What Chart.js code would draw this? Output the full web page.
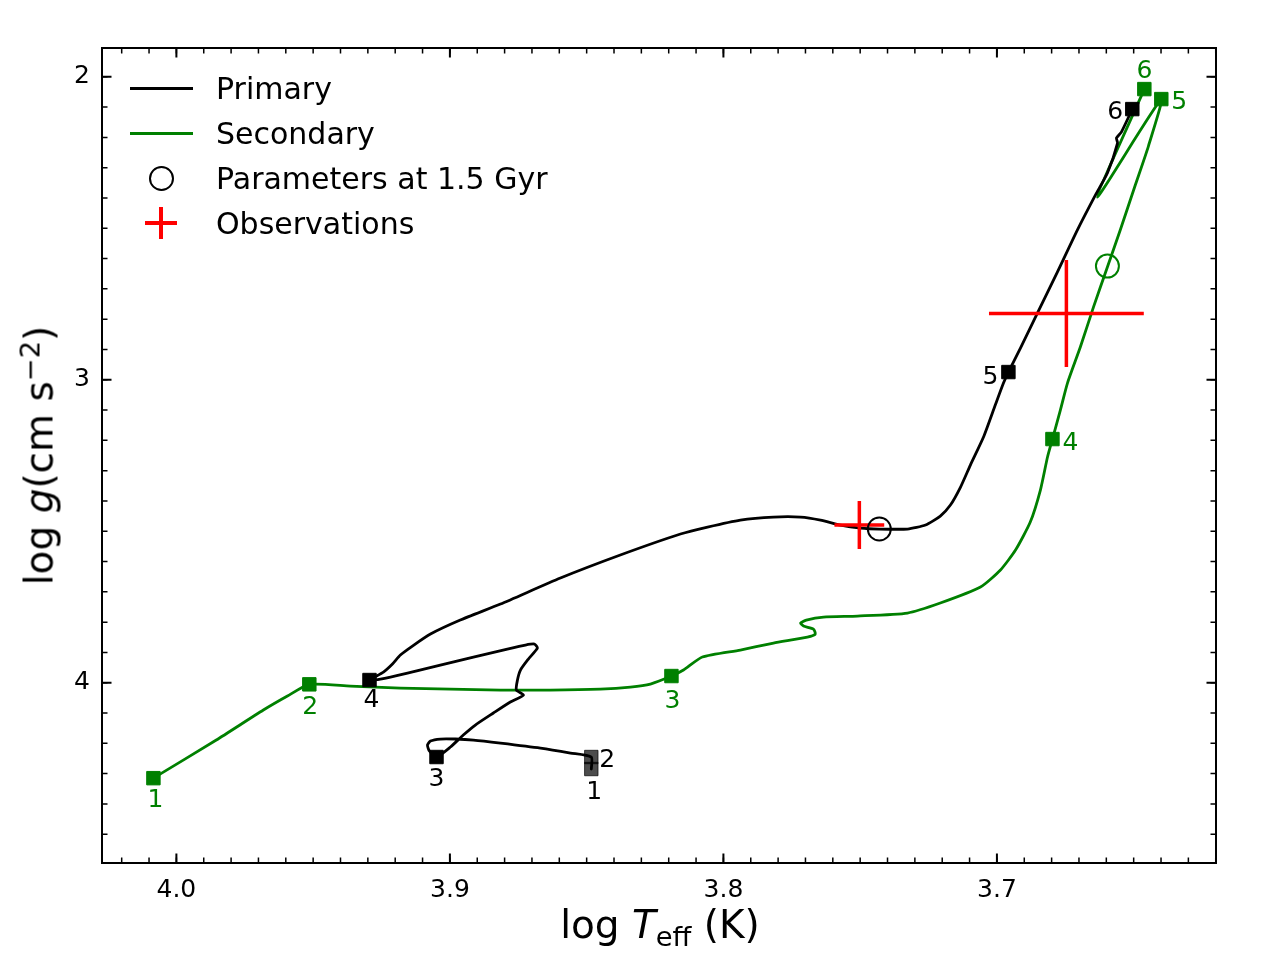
<!DOCTYPE html>
<html>
<head>
<meta charset="utf-8">
<title>log Teff - log g tracks</title>
<script src="https://cdn.jsdelivr.net/npm/chart.js@4.4.1/dist/chart.umd.min.js"></script>
<style>
  html, body { margin: 0; padding: 0; background: #fff; overflow: hidden; }
  #wrap { position: relative; width: 1280px; height: 960px; font-family: 'DejaVu Sans', sans-serif; color: #000; }
  #c { position: absolute; left: 0; top: 0; }
  .axis-title { position: absolute; width: 400px; height: 39px; font-size: 39px; line-height: 39px; text-align: center; white-space: nowrap; }
  #xtitle { left: 460px; top: 905px; }
  #ytitle { left: -161px; top: 436px; transform: rotate(-90deg); }
  .sub { font-size: 0.7em; position: relative; top: 8px; }
  .sup { font-size: 0.7em; position: relative; top: -13px; }
  .leg-text { position: absolute; left: 216px; font-size: 30px; line-height: 30px; white-space: nowrap; }
  .leg-line { position: absolute; left: 130px; width: 63px; height: 3px; }
  .leg-circle { position: absolute; left: 148.5px; top: 165.5px; width: 21px; height: 21px; border: 2px solid #000; border-radius: 50%; }
  .leg-bar { position: absolute; background: #ff0000; }
</style>
</head>
<body>
<div id="wrap">
  <canvas id="c" width="1280" height="960" style="width:1280px;height:960px"></canvas>

  <div class="leg-line" style="top:86.5px;background:#000"></div>
  <div class="leg-text" style="top:74px">Primary</div>
  <div class="leg-line" style="top:131.5px;background:#008000"></div>
  <div class="leg-text" style="top:119px">Secondary</div>
  <div class="leg-circle"></div>
  <div class="leg-text" style="top:164px">Parameters at 1.5 Gyr</div>
  <div class="leg-bar" style="left:145px;top:221px;width:32px;height:4px"></div>
  <div class="leg-bar" style="left:159px;top:207px;width:4px;height:32px"></div>
  <div class="leg-text" style="top:209px">Observations</div>

  <div id="xtitle" class="axis-title">log <i>T</i><span class="sub">eff</span> (K)</div>
  <div id="ytitle" class="axis-title">log <i>g</i>(cm s<span class="sup">−2</span>)</div>
</div>

<script>
  // Primary track (log Teff, log g)
  const primTeff = [3.8483, 3.8483, 3.8559, 3.8669, 3.8815, 3.8914, 3.8980, 3.9035, 3.9071, 3.9082,
    3.9075, 3.9049, 3.8998, 3.8951, 3.8907, 3.8841, 3.8779, 3.8731, 3.8757, 3.8753,
    3.8742, 3.8713, 3.8680, 3.8691, 3.8724, 3.8790, 3.8914, 3.9035, 3.9155, 3.9254,
    3.9294, 3.9243, 3.9210, 3.9181, 3.9137, 3.9071, 3.8962, 3.8815, 3.8596, 3.8377,
    3.8157, 3.8058, 3.7938, 3.7817, 3.7718, 3.7645, 3.7572, 3.7499, 3.7430, 3.7327,
    3.7261, 3.7207, 3.7170, 3.7133, 3.7097, 3.7049, 3.7006, 3.6976, 3.6958, 3.6914,
    3.6852, 3.6779, 3.6706, 3.6640, 3.6596, 3.6559, 3.6563, 3.6545, 3.6505];
  const primLogg = [4.2848, 4.2452, 4.2320, 4.2155, 4.1990, 4.1891, 4.1858, 4.1858, 4.1924, 4.2056,
    4.2254, 4.2452, 4.2122, 4.1726, 4.1396, 4.1000, 4.0637, 4.0406, 4.0241, 3.9911,
    3.9581, 3.9218, 3.8855, 3.8723, 3.8756, 3.8888, 3.9152, 3.9416, 3.9680, 3.9878,
    3.9911, 3.9647, 3.9383, 3.9086, 3.8789, 3.8393, 3.7931, 3.7403, 3.6545, 3.5785,
    3.5092, 3.4861, 3.4630, 3.4531, 3.4531, 3.4630, 3.4795, 3.4894, 3.4927, 3.4927,
    3.4795, 3.4498, 3.4135, 3.3541, 3.2815, 3.1891, 3.0835, 3.0109, 2.9746, 2.8954,
    2.7799, 2.6446, 2.5059, 2.3904, 2.3178, 2.2188, 2.2023, 2.1825, 2.1066];

  // Secondary track
  const secTeff = [4.0084, 3.9854, 3.9682, 3.9594, 3.9514, 3.9364, 3.9181, 3.8998, 3.8815, 3.8633,
    3.8450, 3.8340, 3.8267, 3.8190, 3.8146, 3.8077, 3.7938, 3.7817, 3.7693, 3.7664,
    3.7671, 3.7707, 3.7718, 3.7697, 3.7634, 3.7510, 3.7327, 3.7207, 3.7060, 3.6987,
    3.6932, 3.6878, 3.6841, 3.6815, 3.6797, 3.6768, 3.6742, 3.6695, 3.6647, 3.6596,
    3.6549, 3.6494, 3.6446, 3.6399, 3.6633, 3.6461];
  const secLogg = [4.3150, 4.1891, 4.0901, 4.0439, 4.0053, 4.0109, 4.0175, 4.0208, 4.0241, 4.0241,
    4.0208, 4.0142, 4.0043, 3.9779, 3.9581, 3.9152, 3.8921, 3.8690, 3.8492, 3.8393,
    3.8228, 3.8129, 3.8030, 3.7931, 3.7832, 3.7799, 3.7700, 3.7370, 3.6842, 3.6280,
    3.5621, 3.4696, 3.3640, 3.2551, 3.1957, 3.1000, 3.0109, 2.8921, 2.7601, 2.6281,
    2.5059, 2.3574, 2.2287, 2.0736, 2.3970, 2.0406];

  // numbered points along the tracks
  const markNames = ['1', '2', '3', '4', '5', '6'];
  const primMarkTeff = [3.8483, 3.8483, 3.9049, 3.9294, 3.6958, 3.6505];
  const primMarkLogg = [4.2848, 4.2452, 4.2452, 3.9911, 2.9746, 2.1066];
  const secMarkTeff = [4.0084, 3.9514, 3.8190, 3.6797, 3.6399, 3.6461];
  const secMarkLogg = [4.3150, 4.0053, 3.9779, 3.1957, 2.0736, 2.0406];

  // parameters at 1.5 Gyr (primary, secondary)
  const ageTeff = [3.7430, 3.6596];
  const ageLogg = [3.4927, 2.6248];

  // observations with error bars
  const obsTeff = [3.7503, 3.6746];
  const obsLogg = [3.4795, 2.7815];
  const obsTeffErr = [0.0091, 0.0283];
  const obsLoggErr = [0.0792, 0.1766];

  // axes
  const xTickValues = [4.0, 3.9, 3.8, 3.7];
  const yTickValues = [2, 3, 4];
  const X_MIN = 3.6199, X_MAX = 4.0272;
  const Y_MIN = 1.905, Y_MAX = 4.595;
  const X_MINOR_STEP = 0.01, Y_MINOR_STEP = 0.1;

  // label offsets in px from each numbered marker
  const primLabelOffsets = [[3, 21], [16, 1], [0, 20], [2, 18], [-18, 3], [-17, 1]];
  const secLabelOffsets = [[2, 20], [1, 21], [1, 23], [18, 2], [18, 1], [0, -20]];

  const BLACK = '#000000';
  const GREEN = '#008000';
  const RED = '#ff0000';
  const FADED = 'rgba(0, 0, 0, 0.7)';

  const pts = (xs, ys) => xs.map((x, i) => ({ x: x, y: ys[i] }));

  function drawCrosses(chart) {
    const ctx = chart.ctx;
    const xs = chart.scales.x, ys = chart.scales.y;
    ctx.save();
    ctx.strokeStyle = RED;
    ctx.lineWidth = 3.5;
    ctx.lineCap = 'butt';
    obsTeff.forEach((t, i) => {
      const cx = xs.getPixelForValue(t), cy = ys.getPixelForValue(obsLogg[i]);
      ctx.beginPath();
      ctx.moveTo(xs.getPixelForValue(t - obsTeffErr[i]), cy);
      ctx.lineTo(xs.getPixelForValue(t + obsTeffErr[i]), cy);
      ctx.moveTo(cx, ys.getPixelForValue(obsLogg[i] - obsLoggErr[i]));
      ctx.lineTo(cx, ys.getPixelForValue(obsLogg[i] + obsLoggErr[i]));
      ctx.stroke();
    });
    ctx.restore();
  }

  function drawLabels(chart, teff, logg, offsets, color) {
    const ctx = chart.ctx;
    const xs = chart.scales.x, ys = chart.scales.y;
    ctx.save();
    ctx.fillStyle = color;
    ctx.font = '25px "DejaVu Sans"';
    ctx.textAlign = 'center';
    ctx.textBaseline = 'middle';
    markNames.forEach((name, i) => {
      const px = xs.getPixelForValue(teff[i]) + offsets[i][0];
      const py = ys.getPixelForValue(logg[i]) + offsets[i][1] + 2;
      ctx.fillText(name, px, py);
    });
    ctx.restore();
  }

  // matplotlib-like frame with inward ticks on all four sides
  function drawFrame(chart) {
    const ctx = chart.ctx;
    const a = chart.chartArea;
    const xs = chart.scales.x, ys = chart.scales.y;
    ctx.save();
    ctx.strokeStyle = BLACK;

    const tick = (v, axis, len, w) => {
      ctx.lineWidth = w;
      ctx.beginPath();
      if (axis === 'x') {
        const p = xs.getPixelForValue(v);
        ctx.moveTo(p, a.bottom); ctx.lineTo(p, a.bottom - len);
        ctx.moveTo(p, a.top); ctx.lineTo(p, a.top + len);
      } else {
        const p = ys.getPixelForValue(v);
        ctx.moveTo(a.left, p); ctx.lineTo(a.left + len, p);
        ctx.moveTo(a.right, p); ctx.lineTo(a.right - len, p);
      }
      ctx.stroke();
    };

    const nx0 = Math.ceil(X_MIN / X_MINOR_STEP - 1e-6), nx1 = Math.floor(X_MAX / X_MINOR_STEP + 1e-6);
    for (let n = nx0; n <= nx1; n++) tick(n * X_MINOR_STEP, 'x', 5.5, 1.5);
    const ny0 = Math.ceil(Y_MIN / Y_MINOR_STEP - 1e-6), ny1 = Math.floor(Y_MAX / Y_MINOR_STEP + 1e-6);
    for (let n = ny0; n <= ny1; n++) tick(n * Y_MINOR_STEP, 'y', 5.5, 1.5);
    xTickValues.forEach(v => tick(v, 'x', 9.5, 2));
    yTickValues.forEach(v => tick(v, 'y', 9.5, 2));

    ctx.lineWidth = 2;
    ctx.strokeRect(a.left, a.top, a.right - a.left, a.bottom - a.top);
    ctx.restore();
  }

  const mplLook = {
    id: 'mplLook',
    afterDatasetDraw(chart, args) {
      // crosses sit above the tracks, below markers and circles
      if (args.index === 3) drawCrosses(chart);
    },
    afterDraw(chart) {
      drawLabels(chart, primMarkTeff, primMarkLogg, primLabelOffsets, BLACK);
      drawLabels(chart, secMarkTeff, secMarkLogg, secLabelOffsets, GREEN);
      drawFrame(chart);
    }
  };

  Chart.defaults.font.family = '"DejaVu Sans", sans-serif';
  Chart.defaults.color = BLACK;

  const trackStyle = {
    showLine: true,
    borderWidth: 2.8,
    borderJoinStyle: 'round',
    borderCapStyle: 'round',
    pointRadius: 0,
    fill: false,
    tension: 0.2
  };

  new Chart(document.getElementById('c'), {
    type: 'scatter',
    data: {
      datasets: [
        {
          label: 'Parameters at 1.5 Gyr',
          data: pts(ageTeff, ageLogg),
          showLine: false,
          pointStyle: 'circle',
          pointRadius: 11.5,
          pointBorderWidth: 2,
          pointBorderColor: [BLACK, GREEN],
          pointBackgroundColor: 'rgba(0,0,0,0)'
        },
        {
          label: 'Primary points',
          data: pts(primMarkTeff, primMarkLogg),
          showLine: false,
          pointStyle: 'rect',
          pointRadius: 9.5,
          pointBorderWidth: 1,
          pointBackgroundColor: [FADED, FADED, BLACK, BLACK, BLACK, BLACK],
          pointBorderColor: [FADED, FADED, BLACK, BLACK, BLACK, BLACK]
        },
        {
          label: 'Secondary points',
          data: pts(secMarkTeff, secMarkLogg),
          showLine: false,
          pointStyle: 'rect',
          pointRadius: 9.5,
          pointBorderWidth: 1,
          pointBackgroundColor: GREEN,
          pointBorderColor: GREEN
        },
        Object.assign({ label: 'Primary', data: pts(primTeff, primLogg), borderColor: BLACK }, trackStyle),
        Object.assign({ label: 'Secondary', data: pts(secTeff, secLogg), borderColor: GREEN }, trackStyle)
      ]
    },
    options: {
      responsive: false,
      devicePixelRatio: 1,
      animation: false,
      events: [],
      layout: { padding: { top: 48, right: 64, left: 0, bottom: 0 } },
      plugins: {
        legend: { display: false },
        tooltip: { enabled: false }
      },
      scales: {
        x: {
          type: 'linear',
          reverse: true,
          min: X_MIN,
          max: X_MAX,
          grid: { display: false, drawTicks: false },
          border: { display: false },
          ticks: {
            color: BLACK,
            font: { size: 25 },
            padding: 12,
            autoSkip: false,
            maxRotation: 0,
            callback: v => Number(v).toFixed(1)
          },
          afterBuildTicks: s => { s.ticks = xTickValues.map(v => ({ value: v })); },
          afterFit: s => { s.height = 97; }
        },
        y: {
          type: 'linear',
          reverse: true,
          min: Y_MIN,
          max: Y_MAX,
          grid: { display: false, drawTicks: false },
          border: { display: false },
          ticks: {
            color: BLACK,
            font: { size: 25 },
            padding: 12,
            autoSkip: false,
            callback: v => String(v)
          },
          afterBuildTicks: s => { s.ticks = yTickValues.map(v => ({ value: v })); },
          afterFit: s => { s.width = 102; }
        }
      }
    },
    plugins: [mplLook]
  });
</script>
</body>
</html>
